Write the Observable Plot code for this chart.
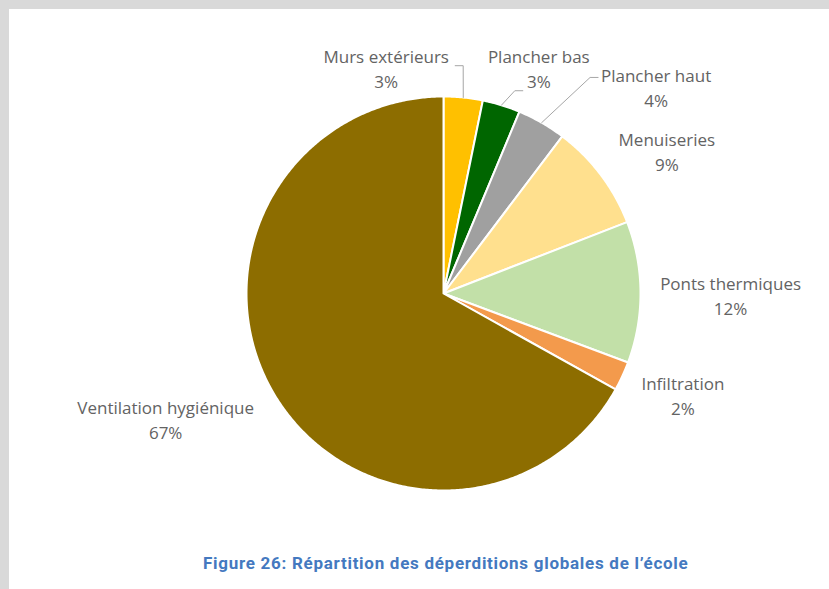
<!DOCTYPE html>
<html><head><meta charset="utf-8">
<script src="https://cdn.jsdelivr.net/npm/d3@7"></script>
<script src="https://cdn.jsdelivr.net/npm/@observablehq/plot@0.6"></script>
<style>
html,body{margin:0;padding:0;background:#D9D9D9;width:829px;height:589px;overflow:hidden;}
#panel{position:absolute;left:9px;top:9px;width:820px;height:580px;background:#fff;}
#chart{position:absolute;left:0;top:0;}
#caption{position:absolute;left:194px;top:544px;font:700 17px Roboto,sans-serif;letter-spacing:0.72px;color:#4479C0;white-space:nowrap;line-height:20px;}
</style></head><body>
<div id="panel"><div id="chart"></div><div id="caption"></div></div>
<script>
// ---- data ----
const categories = ["Murs extérieurs", "Plancher bas", "Plancher haut", "Menuiseries", "Ponts thermiques", "Infiltration", "Ventilation hygiénique"];
const values = [3.2, 3.1, 4.0, 8.8, 11.6, 2.4, 66.9];
const colors = ["#FFC000", "#006600", "#A0A0A0", "#FFE08E", "#C2E0A8", "#F39A4C", "#8D6D00"];
const caption = "Figure 26: Répartition des déperditions globales de l’école";

// ---- layout (pixels) ----
const W = 820, H = 535;
const CX = 434, CY = 284, R = 197;          // pie centre and radius in the plot
const labelRadius = 1.3;                      // default label distance (in radii)
const labelNudge = [[-83, 29], [20, 19], [85, 15], [19, 11], [31, 3], [7, -7], [-57, -5]];
const leaderEnd = [[69, -2], [-16, 23], [-58, -9], null, null, null, null];

// ---- geometry ----
const total = d3.sum(values);
let acc = 0;
const slices = values.map((v, i) => {
  const a0 = acc / total * 2 * Math.PI;
  acc += v;
  const a1 = acc / total * 2 * Math.PI;
  return {key: categories[i], value: v, a0, a1, mid: (a0 + a1) / 2, i};
});

const slicePts = [];
for (const s of slices) {
  slicePts.push({key: s.key, x: 0, y: 0});
  const n = Math.max(2, Math.ceil((s.a1 - s.a0) / (Math.PI / 360)));
  for (let k = 0; k <= n; k++) {
    const a = s.a0 + (s.a1 - s.a0) * k / n;
    slicePts.push({key: s.key, x: Math.sin(a), y: Math.cos(a)});
  }
}

const labels = slices.map((s, i) => ({
  key: s.key,
  text: s.key + "\n" + Math.round(s.value) + "%",
  x: labelRadius * Math.sin(s.mid) + labelNudge[i][0] / R,
  y: labelRadius * Math.cos(s.mid) - labelNudge[i][1] / R
}));

const leaderPts = [];
slices.forEach((s, i) => {
  if (!leaderEnd[i]) return;
  const sx = Math.sin(s.mid), sy = Math.cos(s.mid);
  const ex = labels[i].x + leaderEnd[i][0] / R, ey = labels[i].y - leaderEnd[i][1] / R;
  const bx = ex + Math.sign(sx - ex) * 8 / R;
  leaderPts.push({key: s.key, x: sx, y: sy}, {key: s.key, x: bx, y: ey}, {key: s.key, x: ex, y: ey});
});

const chart = Plot.plot({
  width: W, height: H, margin: 0,
  style: {background: "transparent", overflow: "visible"},
  x: {domain: [-CX / R, (W - CX) / R], axis: null},
  y: {domain: [-(H - CY) / R, CY / R], axis: null},
  color: {domain: categories, range: colors},
  marks: [
    Plot.line(slicePts, {x: "x", y: "y", z: "key", fill: "key", stroke: "white", strokeWidth: 2, curve: "linear-closed"}),
    Plot.line(leaderPts, {x: "x", y: "y", z: "key", stroke: "#A6A6A6", strokeWidth: 1}),
    Plot.text(labels, {x: "x", y: "y", text: "text", fontSize: 17, fontFamily: "Open Sans", fill: "#636363", lineHeight: 1.47})
  ]
});
document.getElementById("chart").appendChild(chart);
document.getElementById("caption").textContent = caption;
</script>
</body></html>
